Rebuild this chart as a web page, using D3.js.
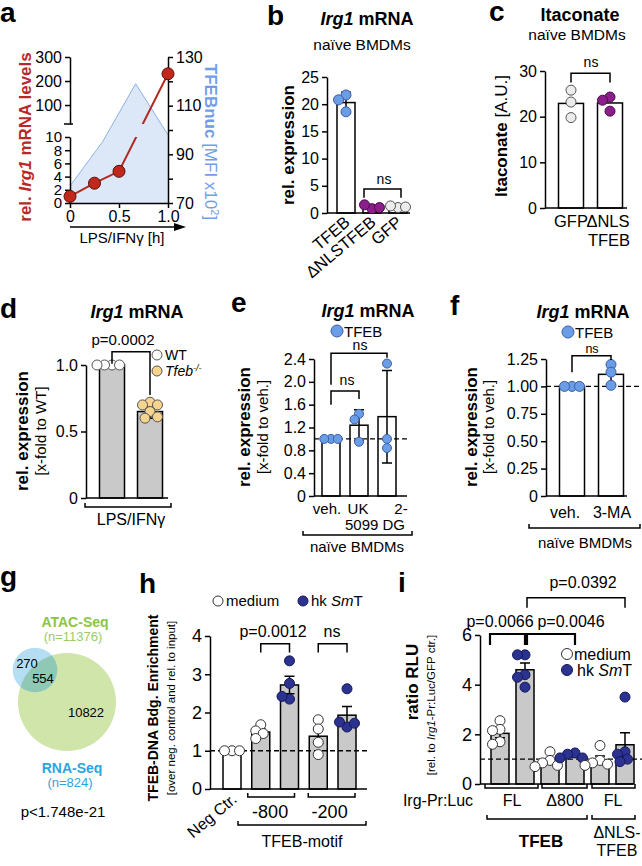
<!DOCTYPE html>
<html>
<head>
<meta charset="utf-8">
<script src="https://cdn.jsdelivr.net/npm/d3@7"></script>
<style>
body { margin: 0; background: #fff; }
</style>
</head>
<body>
<script>
// ---- panel a: Irg1 time course + TFEB nuclear area
const aTime = [0, 0.25, 0.5, 1.0]
const aIrg1 = [1, 3, 4.8, 230]
const aTfebTime = [0, 0.33, 0.67, 1.0]
const aTfebNuc = [77, 95, 119, 98]
const aLowTicks = [0, 2, 4, 6, 8, 10]
const aHighTicks = [100, 200, 300]
const aRightTicks = [70, 80, 90, 100, 110, 120, 130]
const aRightLabels = [70, 90, 110, 130]
const aXTicks = [0, 0.5, 1.0]

// ---- panel b
const bGroups = ['TFEB', 'ΔNLSTFEB', 'GFP']
const bMeans = [20.3, 1.1, 1.1]
const bSD = [1.9, 0, 0]
const bPoints = [[21.7, 20.8, 18.6], [0.8, 1.5, 1.0], [1.0, 1.3, 1.1]]
const bTicks = [0, 5, 10, 15, 20, 25]

// ---- panel c
const cGroups = ['GFP', 'ΔNLS TFEB']
const cMeans = [22.9, 23.0]
const cPoints = [[25.8, 23.2, 19.8], [24.3, 23.6, 21.2]]
const cTicks = [0, 10, 20, 30]

// ---- panel d
const dGroups = ['WT', 'Tfeb-/-']
const dMeans = [1.0, 0.65]
const dSD = [0, 0.05]
const dPoints = [[1, 1, 1, 1], [0.72, 0.70, 0.70, 0.65, 0.60, 0.61]]
const dTicks = [0, 0.5, 1.0]

// ---- panel e
const eGroups = ['veh.', 'UK 5099', '2-DG']
const eMeans = [1.0, 1.24, 1.39]
const eSD = [0, 0.27, 0.81]
const ePoints = [[1, 1, 1], [1.44, 1.34, 0.95], [2.32, 1.0, 0.84]]
const eTicks = [0, 0.4, 0.8, 1.2, 1.6, 2.0, 2.4]

// ---- panel f
const fGroups = ['veh.', '3-MA']
const fMeans = [1.0, 1.11]
const fSD = [0, 0.09]
const fPoints = [[1, 1, 1], [1.2, 1.13, 1.01]]
const fTicks = [0, 0.25, 0.5, 0.75, 1.0, 1.25]

// ---- panel g (venn)
const gSets = ['ATAC-Seq', 'RNA-Seq']
const gTotals = [11376, 824]
const gRegions = [270, 554, 10822] // RNA only, both, ATAC only
const gPValue = 'p<1.748e-21'

// ---- panel h
const hGroups = ['Neg Ctr.', '-800 medium', '-800 hk', '-200 medium', '-200 hk']
const hMeans = [1.0, 1.49, 2.72, 1.38, 1.93]
const hSEM = [0, 0.08, 0.23, 0.19, 0.23]
const hPoints = [[1, 1, 1], [1.68, 1.52, 1.45, 1.32], [3.35, 2.76, 2.35, 2.42], [1.81, 1.57, 1.22, 0.90], [2.62, 1.62, 1.75, 1.72]]
const hTicks = [0, 1, 2, 3, 4]

// ---- panel i
const iGroups = ['FL medium', 'FL hk', 'Δ800 medium', 'Δ800 hk', 'ΔNLS medium', 'ΔNLS hk']
const iMeans = [2.04, 4.6, 0.91, 1.14, 0.98, 1.58]
const iSEM = [0.18, 0.27, 0.11, 0.05, 0.15, 0.48]
const iPoints = [[2.55, 2.2, 2.15, 1.7, 1.6], [5.2, 5.2, 4.4, 4.3, 3.9], [1.3, 0.95, 0.85, 0.75, 0.7], [1.25, 1.2, 1.05, 1.05], [1.55, 0.95, 0.85, 0.8, 0.75], [3.5, 1.3, 1.2, 1.0, 0.9]]
const iTicks = [0, 2, 4, 6]

const FONT = "'Liberation Sans', Arial, Helvetica, sans-serif"
const BLUE = '#6b9de6', PURPLE = '#8b1e8b', LGREY = '#ececec', YELLOW = '#f6d48e', NAVY = '#2c3290', BARGREY = '#c9c9c9'

const svg = d3.select('body').append('svg')
	.attr('width', 642).attr('height', 866)
	.attr('font-family', FONT)
const defs = svg.append('defs')

// text with optional styled parts
function rich(g, x, y, parts, opt = {}) {
	const t = g.append('text').attr('x', x).attr('y', y)
		.attr('font-size', opt.size || 15)
		.attr('text-anchor', opt.anchor || 'middle')
		.attr('fill', opt.fill || '#000')
	if (opt.bold) t.attr('font-weight', 'bold')
	if (opt.rotate) t.attr('transform', `rotate(${opt.rotate} ${x} ${y})`)
	if (typeof parts === 'string') parts = [{t: parts}]
	parts.forEach(p => {
		const s = t.append('tspan').text(p.t)
		if (p.i) s.attr('font-style', 'italic')
		if (p.b) s.attr('font-weight', 'bold')
		if (p.n) s.attr('font-weight', 'normal')
		if (p.sup) s.attr('baseline-shift', 'super').attr('font-size', '65%')
	})
	return t
}

function letter(g, x, y, s) {
	rich(g, x, y, s, {size: 28, bold: true, anchor: 'start'})
}

function styleAxis(ax, size) {
	ax.attr('font-family', FONT).attr('font-size', size)
	ax.selectAll('path, line').attr('stroke', '#000').attr('stroke-width', 1.5)
	return ax
}

function yAxis(g, scale, ticks, fmt, x, size = 16) {
	const ax = g.append('g').attr('transform', `translate(${x},0)`)
		.call(d3.axisLeft(scale).tickValues(ticks).tickFormat(fmt).tickSize(5).tickSizeOuter(0).tickPadding(3))
	return styleAxis(ax, size)
}

function hline(g, x1, x2, y, dash) {
	const l = g.append('line').attr('x1', x1).attr('x2', x2).attr('y1', y).attr('y2', y)
		.attr('stroke', '#000').attr('stroke-width', dash ? 1.3 : 1.5)
	if (dash) l.attr('stroke-dasharray', '5,3')
}

function bracket(g, x1, x2, y, y1, y2, sw = 1.5) {
	g.append('path').attr('d', `M${x1},${y1}V${y}H${x2}V${y2}`)
		.attr('fill', 'none').attr('stroke', '#000').attr('stroke-width', sw)
}

// group bracket below the x axis, ends pointing up
function underline(g, x1, x2, y) {
	g.append('path').attr('d', `M${x1},${y - 4}V${y}H${x2}V${y - 4}`)
		.attr('fill', 'none').attr('stroke', '#000').attr('stroke-width', 1.5)
}

function bars(g, xs, groups, means, y, w, fill) {
	g.selectAll(null).data(groups).join('rect')
		.attr('x', d => xs(d) - w / 2).attr('width', w)
		.attr('y', (d, i) => y(means[i]))
		.attr('height', (d, i) => y(0) - y(means[i]))
		.attr('fill', (d, i) => typeof fill === 'function' ? fill(d, i) : fill)
		.attr('stroke', '#000').attr('stroke-width', 1.5)
}

function errBars(g, xs, groups, means, errs, y, cap = 5) {
	groups.forEach((k, i) => {
		if (!errs[i]) return
		const x = xs(k)
		const y1 = y(means[i] + errs[i]), y0 = y(means[i] - errs[i])
		g.append('path')
			.attr('d', `M${x},${y0}V${y1}M${x - cap},${y1}H${x + cap}M${x - cap},${y0}H${x + cap}`)
			.attr('fill', 'none').attr('stroke', '#000').attr('stroke-width', 1.5)
	})
}

// simple deterministic beeswarm: shift a dot sideways until it does not overlap
function swarm(vals, y, r) {
	const placed = []
	return vals.map(v => {
		const py = y(v)
		const cands = [0]
		for (let k = 1; k < 14; k++) cands.push(-k * r * 0.5, k * r * 0.5)
		let dx = 0
		for (const c of cands) {
			if (placed.every(p => Math.hypot(p[0] - c, p[1] - py) >= r * 1.5)) { dx = c; break }
		}
		placed.push([dx, py])
		return [dx, py]
	})
}

function dots(g, xs, groups, pts, y, r, fill, stroke) {
	groups.forEach((k, i) => {
		swarm(pts[i], y, r).forEach(([dx, py]) => {
			g.append('circle').attr('cx', xs(k) + dx).attr('cy', py).attr('r', r)
				.attr('fill', fill(k, i)).attr('stroke', stroke(k, i)).attr('stroke-width', 1)
		})
	})
}

function legendDot(g, x, y, r, fill, stroke) {
	g.append('circle').attr('cx', x).attr('cy', y).attr('r', r)
		.attr('fill', fill).attr('stroke', stroke).attr('stroke-width', 1)
}

// ================= panel a
{
	const g = svg.append('g')
	letter(g, 0, 22, 'a')
	const x = d3.scaleLinear([0, 1], [70, 168])
	const yLow = d3.scaleLinear([0, 10], [203, 137])
	const yHigh = d3.scaleLinear([21, 300], [124, 57])
	const yR = d3.scaleLinear([70, 130], [203, 57])

	const tfeb = aTfebTime.map((t, i) => [t, aTfebNuc[i]])
	g.append('path').datum(tfeb)
		.attr('d', d3.area().x(d => x(d[0])).y0(yR(70)).y1(d => yR(d[1])))
		.attr('fill', '#dce7f8')
	g.append('path').datum(tfeb)
		.attr('d', d3.line().x(d => x(d[0])).y(d => yR(d[1])))
		.attr('fill', 'none').attr('stroke', '#8db1e8').attr('stroke-width', 1)

	yAxis(g, yLow, aLowTicks, d3.format('d'), 70, 15)
	yAxis(g, yHigh, aHighTicks, d3.format('d'), 70, 16)
	g.append('line').attr('x1', 64).attr('x2', 73).attr('y1', yHigh.range()[0]).attr('y2', yHigh.range()[0])
		.attr('stroke', '#000').attr('stroke-width', 1.5)

	const rAx = g.append('g').attr('transform', `translate(168,0)`)
		.call(d3.axisRight(yR).tickValues(aRightTicks).tickFormat(d => aRightLabels.includes(d) ? d : '')
			.tickSize(5).tickSizeOuter(0).tickPadding(3))
	styleAxis(rAx, 16)

	const xAx = g.append('g').attr('transform', `translate(0,203)`)
		.call(d3.axisBottom(x).tickValues(aXTicks).tickFormat(d => d === 0 ? '0' : d.toFixed(1))
			.tickSize(5).tickSizeOuter(0).tickPadding(3))
	styleAxis(xAx, 16)

	// red line, clipped so it breaks with the axis
	const clip = defs.append('clipPath').attr('id', 'aClip')
	clip.append('rect').attr('x', 60).attr('y', 40).attr('width', 130).attr('height', yHigh.range()[0] - 40)
	clip.append('rect').attr('x', 60).attr('y', yLow.range()[1]).attr('width', 130).attr('height', 80)
	const pts = aTime.map((t, i) => [x(t), aIrg1[i] <= 10 ? yLow(aIrg1[i]) : yHigh(aIrg1[i])])
	g.append('path').datum(pts).attr('d', d3.line())
		.attr('clip-path', 'url(#aClip)')
		.attr('fill', 'none').attr('stroke', '#b32a22').attr('stroke-width', 2)
	g.selectAll(null).data(pts).join('circle')
		.attr('cx', d => d[0]).attr('cy', d => d[1]).attr('r', 6)
		.attr('fill', '#c0281c').attr('stroke', '#5a0f0a').attr('stroke-width', 1)

	// time arrow
	g.append('line').attr('x1', 70).attr('x2', 176).attr('y1', 227).attr('y2', 227)
		.attr('stroke', '#000').attr('stroke-width', 1.5)
	g.append('path').attr('d', 'M186,227L174,223L174,231Z').attr('fill', '#000')
	rich(g, 122, 243, 'LPS/IFNγ [h]', {size: 15})

	rich(g, 31, 137, [{t: 'rel. '}, {t: 'Irg1', i: true}, {t: ' mRNA levels'}],
		{size: 17, bold: true, fill: '#b8282a', rotate: -90})
	rich(g, 205, 142, [{t: 'TFEBnuc'}, {t: ' [MFI x10', n: true}, {t: '2', n: true, sup: true}, {t: ']', n: true}],
		{size: 17, bold: true, fill: '#6f9ee6', rotate: 90})
}

// ================= panel b
{
	const g = svg.append('g')
	letter(g, 267, 25, 'b')
	rich(g, 367, 25, [{t: 'Irg1', i: true}, {t: ' mRNA'}], {size: 18, bold: true})
	rich(g, 362, 50, 'naïve BMDMs', {size: 15.5})
	const y = d3.scaleLinear([0, 25], [213, 77])
	const x = d3.scalePoint(bGroups, [346, 398])
	yAxis(g, y, bTicks, d3.format('d'), 327)
	bars(g, x, bGroups, bMeans, y, 18, '#fff')
	hline(g, 327, 410, y(0))
	errBars(g, x, bGroups, bMeans, bSD, y)
	const cols = [BLUE, PURPLE, LGREY], strokes = ['#3a5fa5', '#4a0c4a', '#555']
	dots(g, x, bGroups, bPoints, y, 5, (k, i) => cols[i], (k, i) => strokes[i])
	bracket(g, x('ΔNLSTFEB') - 8, x('GFP') + 3, y(4.4), y(2.8), y(2.8))
	rich(g, 384, 184, 'ns', {size: 14})
	bGroups.forEach(k => rich(g, x(k) + 5, 224, k, {size: 16.5, anchor: 'end', rotate: -40}))
	rich(g, 294, 145, 'rel. expression', {size: 17, bold: true, rotate: -90})
}

// ================= panel c
{
	const g = svg.append('g')
	letter(g, 489, 21, 'c')
	rich(g, 580, 21, 'Itaconate', {size: 18, bold: true})
	rich(g, 577, 40, 'naïve BMDMs', {size: 15.5})
	const y = d3.scaleLinear([0, 30], [208, 71])
	const x = d3.scalePoint(cGroups, [571, 610])
	yAxis(g, y, cTicks, d3.format('d'), 545)
	bars(g, x, cGroups, cMeans, y, 25, '#fff')
	hline(g, 545, 627, y(0))
	dots(g, x, cGroups, cPoints, y, 5, (k, i) => i ? PURPLE : LGREY, (k, i) => i ? '#4a0c4a' : '#555')
	bracket(g, x('GFP'), x('ΔNLS TFEB'), y(29.5), y(27.5), y(27.5))
	rich(g, 591, 67, 'ns', {size: 14})
	rich(g, 571, 227, 'GFP', {size: 16.5})
	rich(g, 608, 227, 'ΔNLS', {size: 16.5})
	rich(g, 609, 246, 'TFEB', {size: 16.5})
	rich(g, 507, 136, [{t: 'Itaconate'}, {t: '  [A.U.]', n: true}], {size: 17, bold: true, rotate: -90})
}

// ================= panel d
{
	const g = svg.append('g')
	letter(g, 0, 318, 'd')
	rich(g, 137, 318, [{t: 'Irg1', i: true}, {t: ' mRNA'}], {size: 18, bold: true})
	const y = d3.scaleLinear([0, 1], [498, 365])
	const x = d3.scalePoint(dGroups, [112, 150])
	yAxis(g, y, dTicks, d => d === 0 ? '0' : d.toFixed(1), 86)
	bars(g, x, dGroups, dMeans, y, 25, BARGREY)
	hline(g, 86, 168, y(0))
	errBars(g, x, dGroups, dMeans, dSD, y)
	dots(g, x, dGroups, dPoints, y, 5, (k, i) => i ? YELLOW : '#fff', () => '#555')
	bracket(g, x('WT'), x('Tfeb-/-'), y(1.1), y(1.01), y(0.775))
	rich(g, 123, 345, 'p=0.0002', {size: 15})
	legendDot(g, 157, 355, 5, '#fff', '#555')
	rich(g, 165, 360, 'WT', {size: 14, anchor: 'start'})
	legendDot(g, 157, 371, 5, YELLOW, '#555')
	rich(g, 165, 376, [{t: 'Tfeb', i: true}, {t: '-/-', i: true, sup: true}], {size: 14, anchor: 'start'})
	underline(g, 85, 171, 507)
	rich(g, 131, 525, 'LPS/IFNγ', {size: 16})
	rich(g, 28, 431, 'rel. expression', {size: 17, bold: true, rotate: -90})
	rich(g, 46, 431, '[x-fold to WT]', {size: 15, rotate: -90})
}

// ================= panel e
{
	const g = svg.append('g')
	letter(g, 231, 312, 'e')
	rich(g, 368, 317, [{t: 'Irg1', i: true}, {t: ' mRNA'}], {size: 18, bold: true})
	legendDot(g, 337, 331, 6, BLUE, '#3a5fa5')
	rich(g, 344, 337, 'TFEB', {size: 15, anchor: 'start'})
	const y = d3.scaleLinear([0, 2.4], [496, 359])
	const x = d3.scalePoint(eGroups, [331, 387])
	yAxis(g, y, eTicks, d => d === 0 ? '0' : d.toFixed(1), 314)
	bars(g, x, eGroups, eMeans, y, 18, '#fff')
	hline(g, 314, 407, y(0))
	hline(g, 314, 407, y(1), true)
	errBars(g, x, eGroups, eMeans, eSD, y)
	dots(g, x, eGroups, ePoints, y, 4.5, () => BLUE, () => '#3a5fa5')
	bracket(g, x('veh.'), x('UK 5099'), y(1.84), y(1.6), y(1.7))
	rich(g, 347, 385, 'ns', {size: 14})
	bracket(g, x('veh.'), x('2-DG'), y(2.5), y(1.95), y(2.42))
	rich(g, 360, 350, 'ns', {size: 14})
	rich(g, 327, 514, 'veh.', {size: 15})
	rich(g, 358, 514, 'UK', {size: 15})
	rich(g, 401, 514, '2-', {size: 15})
	rich(g, 375, 530, '5099 DG', {size: 15})
	underline(g, 303, 412, 535)
	rich(g, 357, 552, 'naïve BMDMs', {size: 15})
	rich(g, 250, 427, 'rel. expression', {size: 17, bold: true, rotate: -90})
	rich(g, 268, 427, '[x-fold to veh.]', {size: 15, rotate: -90})
}

// ================= panel f
{
	const g = svg.append('g')
	letter(g, 450, 315, 'f')
	rich(g, 583, 318, [{t: 'Irg1', i: true}, {t: ' mRNA'}], {size: 18, bold: true})
	legendDot(g, 568, 332, 6, BLUE, '#3a5fa5')
	rich(g, 575, 338, 'TFEB', {size: 15, anchor: 'start'})
	const y = d3.scaleLinear([0, 1.25], [496, 359])
	const x = d3.scalePoint(fGroups, [572, 611])
	yAxis(g, y, fTicks, d => d === 0 ? '0' : d.toFixed(2), 546)
	bars(g, x, fGroups, fMeans, y, 25, '#fff')
	hline(g, 546, 627, y(0))
	hline(g, 546, 642, y(1), true)
	errBars(g, x, fGroups, fMeans, fSD, y)
	dots(g, x, fGroups, fPoints, y, 5, () => BLUE, () => '#3a5fa5')
	bracket(g, x('veh.'), x('3-MA'), y(1.28), y(1.13), y(1.24))
	rich(g, 592, 353, 'ns', {size: 12.5})
	rich(g, 565, 518, 'veh.', {size: 16})
	rich(g, 612, 518, '3-MA', {size: 16})
	underline(g, 529, 640, 528)
	rich(g, 585, 548, 'naïve BMDMs', {size: 15})
	rich(g, 477, 427, 'rel. expression', {size: 17, bold: true, rotate: -90})
	rich(g, 494, 427, '[x-fold to veh.]', {size: 15, rotate: -90})
}

// ================= panel g (venn)
{
	const g = svg.append('g')
	letter(g, 0, 586, 'g')
	const r = d3.scalePow().exponent(0.3).domain([0, gTotals[0]]).range([0, 49])
	const big = {x: 67, y: 702, r: r(gTotals[0])}
	const small = {x: 35, y: 670, r: r(gTotals[1])}
	g.append('circle').attr('cx', big.x).attr('cy', big.y).attr('r', big.r).attr('fill', '#cfe5a9')
	g.append('circle').attr('cx', small.x).attr('cy', small.y).attr('r', small.r).attr('fill', '#b5def5')
	defs.append('clipPath').attr('id', 'gClip')
		.append('circle').attr('cx', big.x).attr('cy', big.y).attr('r', big.r)
	g.append('circle').attr('cx', small.x).attr('cy', small.y).attr('r', small.r)
		.attr('fill', '#8fc9b5').attr('clip-path', 'url(#gClip)')
	rich(g, 27, 668, String(gRegions[0]), {size: 13})
	rich(g, 43, 683, String(gRegions[1]), {size: 13})
	rich(g, 86, 717, String(gRegions[2]), {size: 13})
	rich(g, 75, 627, gSets[0], {size: 14, bold: true, fill: '#8cc63e'})
	rich(g, 73, 641, `(n=${gTotals[0]})`, {size: 13, fill: '#9ccb6a'})
	rich(g, 72, 773, gSets[1], {size: 14, bold: true, fill: '#2aa5df'})
	rich(g, 70, 787, `(n=${gTotals[1]})`, {size: 13, fill: '#2aa5df'})
	rich(g, 63, 817, gPValue, {size: 15})
}

// ================= panel h
{
	const g = svg.append('g')
	letter(g, 139, 593, 'h')
	legendDot(g, 218, 601, 5, '#fff', '#333')
	rich(g, 226, 606, 'medium', {size: 15, anchor: 'start'})
	legendDot(g, 303, 601, 5, NAVY, '#15185a')
	rich(g, 311, 606, [{t: 'hk '}, {t: 'Sm', i: true}, {t: 'T'}], {size: 15, anchor: 'start'})
	const y = d3.scaleLinear([0, 4], [789, 636])
	const x = d3.scalePoint(hGroups, [232, 347])
	yAxis(g, y, hTicks, d3.format('d'), 210, 18)
	bars(g, x, hGroups, hMeans, y, 18, (k, i) => i ? BARGREY : '#fff')
	hline(g, 210, 367, y(0))
	hline(g, 210, 367, y(1), true)
	errBars(g, x, hGroups, hMeans, hSEM, y)
	dots(g, x, hGroups, hPoints, y, 5, k => k.endsWith('hk') ? NAVY : '#fff', k => k.endsWith('hk') ? '#15185a' : '#333')
	bracket(g, x('-800 medium'), x('-800 hk'), y(3.8), y(3.57), y(3.57))
	rich(g, 273, 637, 'p=0.0012', {size: 16})
	bracket(g, x('-200 medium'), x('-200 hk'), y(3.8), y(3.57), y(3.57))
	rich(g, 332, 637, 'ns', {size: 16})
	rich(g, x('Neg Ctr.') + 6, 801, 'Neg Ctr.', {size: 16, anchor: 'end', rotate: -40})
	underline(g, x('-800 medium') - 13, x('-800 hk') + 5, 797)
	rich(g, (x('-800 medium') + x('-800 hk')) / 2 - 5, 818, '-800', {size: 18})
	underline(g, x('-200 medium') - 10, x('-200 hk') + 8, 797)
	rich(g, (x('-200 medium') + x('-200 hk')) / 2 - 3, 818, '-200', {size: 18})
	underline(g, 238, 366, 825)
	rich(g, 302, 847, 'TFEB-motif', {size: 16})
	rich(g, 158, 708, 'TFEB-DNA Bdg. Enrichment', {size: 14, bold: true, rotate: -90})
	rich(g, 175, 708, '[over neg. control and rel. to input]', {size: 11.5, rotate: -90})
}

// ================= panel i
{
	const g = svg.append('g')
	letter(g, 398, 592, 'i')
	const y = d3.scaleLinear([0, 6], [784, 635])
	const x = d3.scalePoint(iGroups, [500, 625])
	yAxis(g, y, iTicks, d3.format('d'), 480, 18)
	bars(g, x, iGroups, iMeans, y, 18, BARGREY)
	hline(g, 480, 633, y(0))
	hline(g, 480, 642, y(1), true)
	errBars(g, x, iGroups, iMeans, iSEM, y)
	dots(g, x, iGroups, iPoints, y, 5, k => k.endsWith('hk') ? NAVY : '#fff', k => k.endsWith('hk') ? '#15185a' : '#333')
	bracket(g, x('FL medium') - 10, x('FL hk'), y(6.04), y(5.6), y(5.6), 2.2)
	bracket(g, x('FL hk') + 2, x('Δ800 hk'), y(6.04), y(5.6), y(5.6), 2.2)
	rich(g, 500, 627, 'p=0.0066', {size: 16})
	rich(g, 571, 627, 'p=0.0046', {size: 16})
	bracket(g, x('FL hk') + 2, x('ΔNLS hk'), y(7.5), y(7.1), y(7.1))
	rich(g, 583, 588, 'p=0.0392', {size: 16})
	legendDot(g, 567, 654, 5.5, '#fff', '#333')
	rich(g, 574, 660, 'medium', {size: 16, anchor: 'start'})
	legendDot(g, 567, 670, 5.5, NAVY, '#15185a')
	rich(g, 577, 676, [{t: 'hk '}, {t: 'Sm', i: true}, {t: 'T'}], {size: 16, anchor: 'start'})
	rich(g, 438, 806, 'Irg-Pr:Luc', {size: 16})
	underline(g, 485, 538, 788)
	rich(g, 512, 806, 'FL', {size: 16})
	underline(g, 542, 587, 788)
	rich(g, 565, 806, 'Δ800', {size: 16})
	underline(g, 592, 635, 788)
	rich(g, 613, 806, 'FL', {size: 16})
	underline(g, 487, 587, 819)
	rich(g, 541, 847, 'TFEB', {size: 17, bold: true})
	underline(g, 592, 635, 819)
	rich(g, 617, 838, 'ΔNLS-', {size: 16})
	rich(g, 617, 856, 'TFEB', {size: 16})
	rich(g, 418, 682, 'ratio RLU', {size: 17, bold: true, rotate: -90})
	rich(g, 435, 705, [{t: '[rel. to '}, {t: 'Irg1', i: true}, {t: '-Pr:Luc/GFP ctr.]'}], {size: 11.5, rotate: -90})
}
</script>
</body>
</html>
